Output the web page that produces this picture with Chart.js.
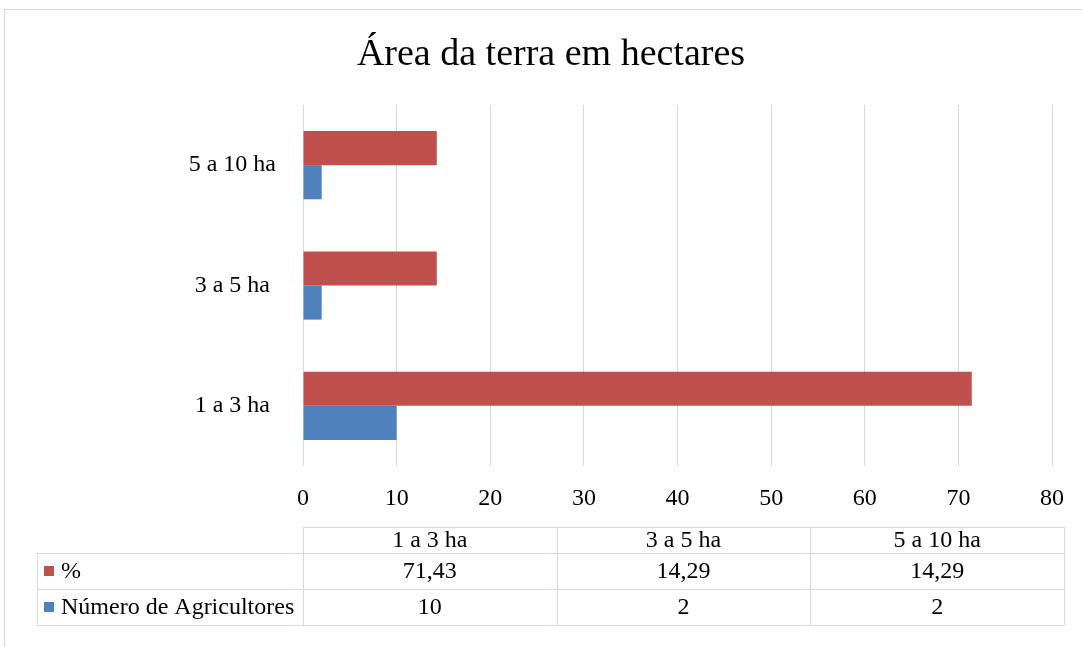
<!DOCTYPE html>
<html>
<head>
<meta charset="utf-8">
<script src="https://cdn.jsdelivr.net/npm/chart.js@4.4.1/dist/chart.umd.min.js"></script>
<style>
  html, body { margin: 0; padding: 0; background: #ffffff; }
  #wrap { width: 1082px; height: 647px; position: relative; }
</style>
</head>
<body>
<div id="wrap"><canvas id="myChart" width="1082" height="647"></canvas></div>
<script>
const chartTitle = 'Área da terra em hectares';
const categories = ['1 a 3 ha ', '3 a 5 ha ', '5 a 10 ha'];
const percentValues = [71.43, 14.29, 14.29];
const farmerValues = [10, 2, 2];
const seriesNames = ['%', 'Número de Agricultores'];
const xTicks = [0, 10, 20, 30, 40, 50, 60, 70, 80];

const colors = {
    red: '#C0504D',
    blue: '#4F81BD',
    grid: '#D9D9D9',
    text: '#000000'
};
const serif = '"Liberation Serif", "Times New Roman", serif';

function fmt(v) {
    return v.toLocaleString('pt-BR', { maximumFractionDigits: 2 });
}

// frame, title and the data table under the plot
const tablePlugin = {
    id: 'dataTable',
    afterDraw(chart) {
        const ctx = chart.ctx;
        const area = chart.chartArea;
        ctx.save();
        ctx.strokeStyle = colors.grid;
        ctx.lineWidth = 1;
        ctx.strokeRect(4.5, 9.5, 1200, 800);

        ctx.fillStyle = colors.text;
        ctx.font = '38px ' + serif;
        ctx.textAlign = 'center';
        ctx.textBaseline = 'middle';
        ctx.fillText(chartTitle, 551, 55);

        const left = area.left;
        const right = area.right + 12;
        const legendLeft = 37;
        const rows = [527, 553, 589, 625];
        const colW = (right - left) / categories.length;

        ctx.beginPath();
        ctx.moveTo(left, rows[0] + 0.5); ctx.lineTo(right, rows[0] + 0.5);
        for (let i = 1; i < rows.length; i++) {
            ctx.moveTo(legendLeft, rows[i] + 0.5); ctx.lineTo(right, rows[i] + 0.5);
        }
        for (let c = 0; c <= categories.length; c++) {
            const x = Math.round(left + c * colW) + 0.5;
            ctx.moveTo(x, rows[0]); ctx.lineTo(x, rows[3]);
        }
        ctx.moveTo(legendLeft + 0.5, rows[1]); ctx.lineTo(legendLeft + 0.5, rows[3]);
        ctx.stroke();

        ctx.font = '24px ' + serif;
        categories.forEach((cat, i) => {
            const cx = left + colW * (i + 0.5);
            ctx.fillText(cat.trim(), cx, (rows[0] + rows[1]) / 2 + 1);
            ctx.fillText(fmt(percentValues[i]), cx, (rows[1] + rows[2]) / 2 + 1);
            ctx.fillText(fmt(farmerValues[i]), cx, (rows[2] + rows[3]) / 2 + 1);
        });

        const seriesColors = [colors.red, colors.blue];
        ctx.textAlign = 'left';
        seriesNames.forEach((name, i) => {
            const cy = (rows[i + 1] + rows[i + 2]) / 2;
            ctx.fillStyle = seriesColors[i];
            ctx.fillRect(44, cy - 5, 10, 10);
            ctx.fillStyle = colors.text;
            ctx.fillText(name, 61, cy + 1);
        });
        ctx.restore();
    }
};

const ctx = document.getElementById('myChart').getContext('2d');
new Chart(ctx, {
    type: 'bar',
    data: {
        labels: categories,
        datasets: [
            { label: seriesNames[0], data: percentValues, backgroundColor: colors.red },
            { label: seriesNames[1], data: farmerValues, backgroundColor: colors.blue }
        ]
    },
    options: {
        indexAxis: 'y',
        responsive: false,
        animation: false,
        events: [],
        layout: {
            padding: { left: 0, right: 27, top: 105, bottom: 137 }
        },
        datasets: {
            bar: { categoryPercentage: 0.567, barPercentage: 1.0 }
        },
        scales: {
            x: {
                min: 0,
                max: 80,
                afterBuildTicks: (scale) => { scale.ticks = xTicks.map(v => ({ value: v })); },
                afterFit: (scale) => { scale.height = 44; },
                grid: { color: colors.grid, drawTicks: false },
                border: { display: false },
                ticks: { color: colors.text, padding: 18, font: { family: serif, size: 24 } }
            },
            y: {
                reverse: true,
                afterFit: (scale) => { scale.width = 303; },
                grid: { display: false, drawTicks: false },
                border: { display: false },
                ticks: { color: colors.text, padding: 27, font: { family: serif, size: 24 } }
            }
        },
        plugins: {
            legend: { display: false },
            tooltip: { enabled: false },
            title: { display: false }
        }
    },
    plugins: [tablePlugin]
});
</script>
</body>
</html>
